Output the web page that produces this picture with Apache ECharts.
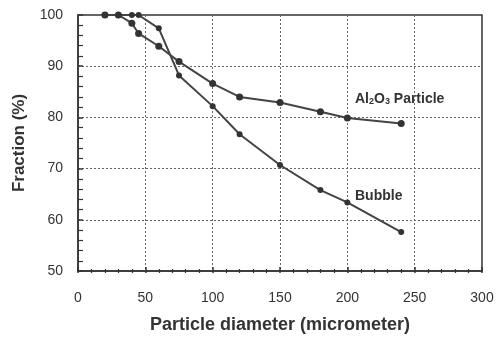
<!DOCTYPE html>
<html>
<head>
<meta charset="utf-8">
<script src="https://cdn.jsdelivr.net/npm/echarts@6/dist/echarts.min.js"></script>
<style>
  html, body { margin: 0; padding: 0; background: #fff; }
  #chart { width: 498px; height: 339px; }
</style>
</head>
<body>
<div id="chart"></div>
<script>
const diameters = [20, 30, 40, 45, 60, 75, 100, 120, 150, 180, 200, 240];
const al2o3Fraction = [100, 100, 98.4, 96.4, 93.9, 90.9, 86.6, 84.0, 82.9, 81.1, 79.9, 78.8];
const bubbleFraction = [100, 100, 100, 100, 97.4, 88.2, 82.2, 76.7, 70.7, 65.8, 63.4, 57.6];
const xTicks = [0, 50, 100, 150, 200, 250, 300];
const yTicks = [50, 60, 70, 80, 90, 100];

const INK = "#333";
const FONT = "Liberation Sans, Arial, sans-serif";
const GRID = { left: 78, right: 16, top: 15, bottom: 66 };
const PLOT_H = 339 - GRID.top - GRID.bottom;
const Y_TICK_LEN = 5;

const pairs = (ys) => diameters.map((x, i) => [x, ys[i]]);

const chart = echarts.init(document.getElementById("chart"), null, { renderer: "canvas" });

const xRange = { type: "value", min: xTicks[0], max: xTicks[xTicks.length - 1], interval: xTicks[1] - xTicks[0] };
const yRange = { type: "value", min: yTicks[0], max: yTicks[yTicks.length - 1], interval: yTicks[1] - yTicks[0] };

// inside ticks don't render here, so tick-only axes are shifted so that
// their outward ticks land inside the plot
const tickAxis = (range, position, offset, majorLen, minorLen) => Object.assign({}, range, {
  position,
  offset,
  axisLine: { show: false },
  axisTick: { show: true, length: majorLen, lineStyle: { color: INK, width: 1.5 } },
  minorTick: { show: true, splitNumber: 5, length: minorLen, lineStyle: { color: INK, width: 1.2 } },
  axisLabel: { show: false },
  splitLine: { show: false }
});

chart.setOption({
  animation: false,
  backgroundColor: "#fff",
  grid: Object.assign({ show: true, borderColor: INK, borderWidth: 1.5 }, GRID),
  xAxis: [
    Object.assign({}, xRange, {
      position: "bottom",
      axisLine: { show: true, onZero: false, lineStyle: { color: INK, width: 1.5 } },
      axisTick: { show: false },
      splitLine: { show: true, lineStyle: { color: "#666", width: 1, type: [2, 2] } },
      axisLabel: { color: "#333", fontFamily: FONT, fontSize: 14, margin: 20 },
      name: "Particle diameter (micrometer)",
      nameLocation: "middle",
      nameGap: 45,
      nameTextStyle: { color: "#333", fontFamily: FONT, fontWeight: "bold", fontSize: 18 }
    }),
    tickAxis(xRange, "top", -PLOT_H, 6, 4)
  ],
  yAxis: [
    Object.assign({}, yRange, {
      position: "left",
      axisLine: { show: true, onZero: false, lineStyle: { color: INK, width: 1.5 } },
      axisTick: { show: false },
      splitLine: { show: true, lineStyle: { color: "#666", width: 1, type: [2, 2] } },
      axisLabel: { color: "#333", fontFamily: FONT, fontSize: 14, margin: 15 },
      name: "Fraction (%)",
      nameLocation: "middle",
      nameGap: 50,
      nameTextStyle: { color: "#333", fontFamily: FONT, fontWeight: "bold", fontSize: 17 }
    }),
    tickAxis(yRange, "left", -Y_TICK_LEN, Y_TICK_LEN, Y_TICK_LEN)
  ],
  series: [
    {
      name: "Al2O3 Particle",
      type: "line",
      data: pairs(al2o3Fraction),
      symbol: "circle",
      symbolSize: 7,
      lineStyle: { color: "#444", width: 2 },
      itemStyle: { color: "#333" }
    },
    {
      name: "Bubble",
      type: "line",
      data: pairs(bubbleFraction),
      symbol: "circle",
      symbolSize: 6,
      lineStyle: { color: "#444", width: 2 },
      itemStyle: { color: "#333" }
    }
  ],
  graphic: [
    {
      type: "text",
      left: 355,
      top: 92,
      style: {
        text: "Al{sub|2}O{sub|3} Particle",
        fill: "#333",
        font: "bold 14px " + FONT,
        rich: {
          sub: { fontSize: 9, fontWeight: "bold", fontFamily: FONT, fill: "#333", padding: [6, 0, 0, 0] }
        }
      }
    },
    {
      type: "text",
      left: 355,
      top: 189,
      style: { text: "Bubble", fill: "#333", font: "bold 14px " + FONT }
    }
  ]
});
</script>
</body>
</html>
